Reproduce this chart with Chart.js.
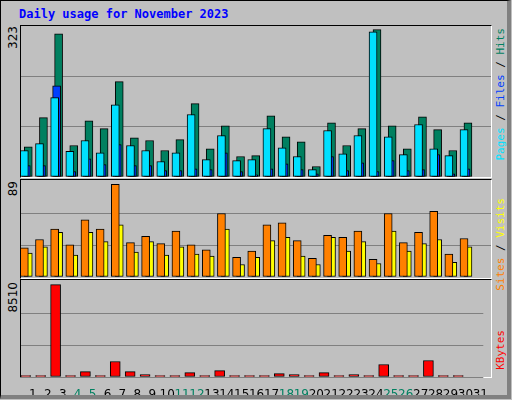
<!DOCTYPE html>
<html>
<head>
<meta charset="utf-8">
<script src="https://cdn.jsdelivr.net/npm/chart.js@4"></script>
<style>
  body { margin: 0; width: 512px; height: 400px; background: #c0c0c0; position: relative; overflow: hidden; }
  .outer { position: absolute; left: 0; top: 0; width: 506px; height: 394px; border: 1px solid #000; border-right: 4px solid #808080; border-bottom: 4px solid #808080; }
  .frame { position: absolute; left: 20px; width: 470px; border-top: 1px solid #000; border-left: 1px solid #000; border-right: 1px solid #fff; border-bottom: 1px solid #fff; }
  .title { position: absolute; left: 19px; top: 7px; font: bold 12px "DejaVu Sans Mono", monospace; color: #0000ff; }
  canvas { position: absolute; }
  .vlab { position: absolute; writing-mode: vertical-rl; transform: rotate(180deg); font: 11px "DejaVu Sans Mono", monospace; }
</style>
</head>
<body>
<div class="outer"></div>
<div class="title">Daily usage for November 2023</div>
<div class="frame" style="top:25px;height:151px"></div>
<div class="frame" style="top:179px;height:98px"></div>
<div class="frame" style="top:279px;height:97px"></div>
<canvas id="c1" width="470" height="151" style="left:21px;top:26px"></canvas>
<canvas id="c2" width="470" height="96" style="left:21px;top:181px"></canvas>
<canvas id="c3" width="470" height="113" style="left:21px;top:282px"></canvas>
<div class="vlab" style="left:6px;top:26px;font-size:12px;font-family:'DejaVu Sans',sans-serif">323</div>
<div class="vlab" style="left:6px;top:181px;font-size:12px;font-family:'DejaVu Sans',sans-serif">89</div>
<div class="vlab" style="left:6px;top:282px;font-size:12px;font-family:'DejaVu Sans',sans-serif">8510</div>
<div class="vlab" style="left:494px;top:28px"><span style="color:#00e0ff">Pages</span> / <span style="color:#0040ff">Files</span> / <span style="color:#008060">Hits</span></div>
<div class="vlab" style="left:494px;top:198px"><span style="color:#ff8000">Sites</span> / <span style="color:#ffff00">Visits</span></div>
<div class="vlab" style="left:494px;top:330px;color:#ff0000">KBytes</div>
<script>
const days = Array.from({length: 31}, (_, i) => i + 1);
const weekendDays = [4, 5, 11, 12, 18, 19, 25, 26];

const hits   = [66,130,314,69,123,106,209,86,80,58,82,161,62,112,45,47,134,88,77,23,119,69,106,323,112,62,132,104,58,119,0];
const files  = [58,73,174,56,80,53,158,69,58,34,53,137,38,91,36,38,106,64,45,16,102,51,91,318,88,49,115,62,47,104,0];
const pages  = [25,25,200,12,40,27,71,25,25,14,14,18,16,53,12,5,18,29,16,7,45,14,31,12,36,14,16,49,7,18,0];
const visits = [23,29,43,21,43,34,50,24,34,21,29,22,20,46,12,19,35,38,20,12,38,25,34,13,44,25,32,36,14,29,0];
const sites  = [28,36,46,31,55,46,89,33,39,32,44,31,26,61,19,25,50,52,35,18,40,38,44,17,61,33,43,63,22,37,0];
const kbytes = [120,120,8510,120,500,120,1430,500,220,120,120,400,120,590,120,120,120,310,220,120,400,120,220,120,1150,120,120,1520,120,120,0];

const pts = arr => arr.map((v, i) => ({x: days[i], y: v}));

// x axes shifted so overlapping bars sit a few pixels apart, like webalizer
function xAxis(shift) {
    return { type: 'linear', min: 0.5 - shift, max: 31.5 - shift, offset: false, display: false };
}
function yAxis(max) {
    return {
        min: 0, max: max,
        afterBuildTicks: s => { s.ticks = [0, max / 3, 2 * max / 3].map(v => ({value: v})); },
        ticks: { display: false },
        border: { display: false },
        grid: { color: '#808080', drawTicks: false, lineWidth: 1 }
    };
}
function bar(data, color, axis, order, thick) {
    return { data: pts(data), backgroundColor: color, borderColor: '#000', borderWidth: 1,
             borderSkipped: false, barThickness: thick || 8, grouped: false,
             xAxisID: axis, order: order };
}
const base = {
    responsive: false, animation: false,
    layout: { padding: 0 },
    plugins: { legend: { display: false }, tooltip: { enabled: false } }
};

new Chart(document.getElementById('c1'), {
    type: 'bar',
    data: { datasets: [
        bar(hits, '#008060', 'xh', 3),
        bar(pages, '#0040ff', 'xp', 2),
        bar(files, '#00e0ff', 'xf', 1)
    ]},
    options: { ...base, scales: { xh: xAxis(-0.02), xp: xAxis(-0.15), xf: xAxis(-0.28), y: yAxis(331) } }
});

new Chart(document.getElementById('c2'), {
    type: 'bar',
    data: { datasets: [
        bar(visits, '#ffff00', 'xv', 2),
        bar(sites, '#ff8000', 'xs', 1)
    ]},
    options: { ...base, scales: { xv: xAxis(-0.02), xs: xAxis(-0.28), y: yAxis(92.2) } }
});

new Chart(document.getElementById('c3'), {
    type: 'bar',
    data: { datasets: [ bar(kbytes, '#ff0000', 'xk', 1, 10) ] },
    options: { ...base, scales: {
        xk: xAxis(-0.18),
        lab: {
            type: 'linear', position: 'bottom', min: 0.2, max: 31.2, offset: false,
            afterBuildTicks: s => { s.ticks = days.map(v => ({value: v})); },
            afterFit: s => { s.height = 18; },
            grid: { display: false, offset: false }, border: { display: false },
            ticks: { padding: 3, autoSkip: false, maxRotation: 0,
                     font: { family: 'DejaVu Sans', size: 12 },
                     color: c => weekendDays.includes(c.tick.value) ? '#008060' : '#000' }
        },
        y: yAxis(8750)
    } }
});
</script>
</body>
</html>
